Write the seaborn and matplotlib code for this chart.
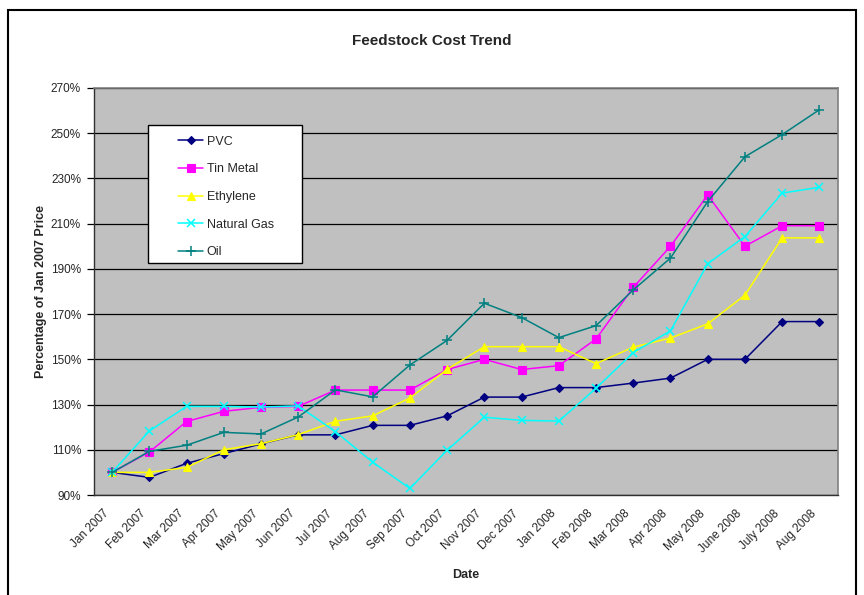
import pandas as pd
import numpy as np
import matplotlib
matplotlib.use('Agg')
import matplotlib.pyplot as plt
import matplotlib.patches as patches
from matplotlib.transforms import ScaledTranslation
from matplotlib.ticker import FixedLocator, FuncFormatter
import seaborn as sns

# Data (percent of Jan 2007 price)
months = ['Jan 2007', 'Feb 2007', 'Mar 2007', 'Apr 2007', 'May 2007', 'Jun 2007',
          'Jul 2007', 'Aug 2007', 'Sep 2007', 'Oct 2007', 'Nov 2007', 'Dec 2007',
          'Jan 2008', 'Feb 2008', 'Mar 2008', 'Apr 2008', 'May 2008', 'June 2008',
          'July 2008', 'Aug 2008']
pvc = [100, 97.8, 104, 108.3, 112.6, 116.6, 116.6, 120.8, 120.8, 125, 133.3, 133.3,
       137.5, 137.5, 139.5, 141.7, 150, 150, 166.7, 166.7]
tin_metal = [100, 109, 122.5, 127, 128.8, 129.2, 136.4, 136.4, 136.4, 145.5, 150, 145.5,
             147.2, 159, 181.8, 200, 222.7, 200, 209.1, 209.1]
ethylene = [100, 100, 102.2, 110, 112.7, 116.7, 122.6, 125, 132.9, 145.6, 155.6, 155.6,
            155.6, 148.1, 155.4, 159.4, 165.7, 178.4, 203.7, 203.7]
natural_gas = [100, 118.3, 129.2, 129.2, 128.9, 129.4, 118, 104.5, 92.9, 109.8, 124.4, 123,
               122.7, 137.2, 153, 162.6, 192.3, 204.3, 223.5, 226.1]
oil = [100, 109.3, 112, 117.7, 117, 124.5, 136.5, 133.4, 147.5, 158.4, 174.8, 168.5,
       159.6, 164.9, 180.7, 194.8, 219.8, 239.6, 249.4, 260.4]

series = {'PVC': pvc, 'Tin Metal': tin_metal, 'Ethylene': ethylene,
          'Natural Gas': natural_gas, 'Oil': oil}

df = pd.DataFrame({'Date': months, **series}).melt(id_vars='Date', var_name='Series',
                                                      value_name='Pct')
df['pos'] = df['Date'].map({m: i for i, m in enumerate(months)})

styles = {
    'PVC': dict(color='#000080', marker='D', markersize=4.5, mew=0.8),
    'Tin Metal': dict(color='#FF00FF', marker='s', markersize=5.5, mew=0.8),
    'Ethylene': dict(color='#FFFF00', marker='^', markersize=6, mew=0.8),
    'Natural Gas': dict(color='#00FFFF', marker='x', markersize=6, mew=1.1),
    'Oil': dict(color='#008080', marker='+', markersize=7, mew=1.1),
}

sns.set_style('white')
plt.rcParams['font.family'] = ['Liberation Sans', 'DejaVu Sans']

fig = plt.figure(figsize=(8.64, 5.95), dpi=100)
ax = fig.add_axes([93.5 / 864, 1 - 495 / 595, 744.5 / 864, 407 / 595])
ax.set_facecolor('#C0C0C0')

for name, st in styles.items():
    sub = df[df['Series'] == name]
    sns.lineplot(data=sub, x='pos', y='Pct', ax=ax, color=st['color'], marker=st['marker'],
                 markersize=st['markersize'], markeredgewidth=st['mew'],
                 markeredgecolor=st['color'], markerfacecolor=st['color'],
                 linewidth=1.1, label=name, sort=False)

ax.set_xlim(-0.5, len(months) - 0.5)
ax.set_ylim(90, 270)
ax.set_yticks(np.arange(90, 271, 20))
ax.yaxis.set_major_formatter(FuncFormatter(lambda v, p: f'{v:.0f}%'))
ax.grid(axis='y', color='black', linewidth=0.9)
ax.set_axisbelow(True)

ax.set_xticks(range(len(months)))
ax.set_xticklabels(months, rotation=45, ha='right', rotation_mode='anchor', fontsize=8.5)
ax.xaxis.set_minor_locator(FixedLocator(np.arange(-0.5, len(months), 1)))
ax.tick_params(axis='x', which='major', length=0, pad=9)
ax.tick_params(axis='x', which='minor', length=5, width=0.9, color='black', direction='out')
ax.tick_params(axis='y', length=5, width=0.9, color='black', direction='out',
               labelsize=8.5, pad=4)
ax.tick_params(bottom=True, left=True)

# nudge rotated month labels left (after tick_params, which resets transforms)
shift = ScaledTranslation(-9 / 100, 0, fig.dpi_scale_trans)
for lab in ax.get_xticklabels():
    lab.set_transform(lab.get_transform() + shift)

for s in ['top', 'right']:
    ax.spines[s].set_color('#808080')
    ax.spines[s].set_linewidth(1.2)
for s in ['left', 'bottom']:
    ax.spines[s].set_color('#303030')
    ax.spines[s].set_linewidth(1.0)

ax.set_xlabel('Date', fontsize=9, fontweight='bold', labelpad=10)
ax.set_ylabel('Percentage of Jan 2007 Price', fontsize=9, fontweight='bold', labelpad=3)
fig.text(0.5, 1 - 41 / 595, 'Feedstock Cost Trend', ha='center', va='center',
         fontsize=11, fontweight='bold')

# legend: white box drawn separately, entries placed inside it
ax.add_patch(patches.Rectangle((0.0728, 0.5693), 0.2073, 0.3398, transform=ax.transAxes,
                               facecolor='white', edgecolor='black', linewidth=1.0,
                               zorder=4.5, clip_on=False))
leg = ax.legend(loc='center left', bbox_to_anchor=(0.1139, 0.7322), frameon=False,
                fontsize=9, labelspacing=1.25, handlelength=2.0,
                handletextpad=0.27, borderpad=0, borderaxespad=0)
leg.set_zorder(5)

# outer chart frame
fig.patches.append(patches.Rectangle((8 / 864, -0.1), 848 / 864, 1.1 - 10 / 595,
                                     transform=fig.transFigure, fill=False,
                                     edgecolor='black', linewidth=1.5))

fig.savefig('out.png', dpi=100)
